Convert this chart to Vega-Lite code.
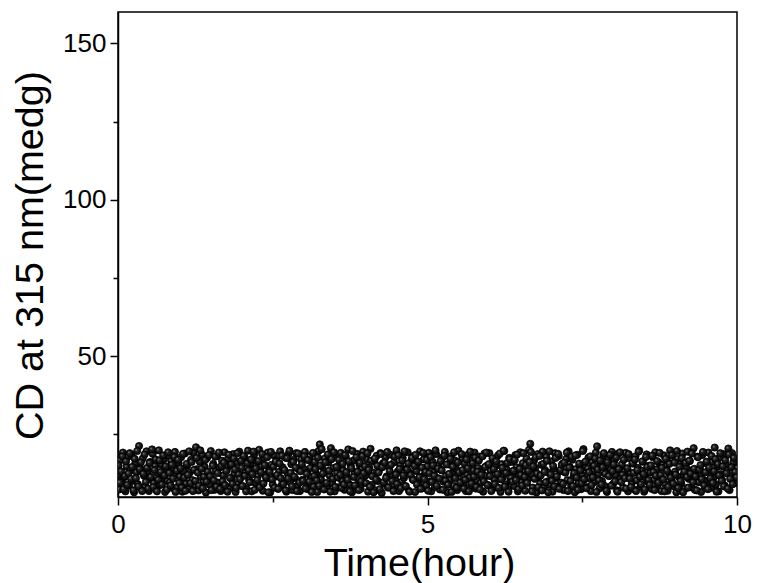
{
  "$schema": "https://vega.github.io/schema/vega-lite/v6.json",
  "autosize": "none",
  "width": 619,
  "height": 485,
  "padding": {"left": 118, "top": 12, "right": 21, "bottom": 86},
  "background": "white",
  "config": {
    "view": {"stroke": "#000", "strokeWidth": 1.5},
    "font": "Liberation Sans",
    "axis": {
      "domainColor": "#000", "domainWidth": 1.5, "tickColor": "#000", "tickWidth": 1.5,
      "grid": false, "labelFont": "Liberation Sans", "titleFont": "Liberation Sans",
      "labelFontSize": 26, "titleFontSize": 39.5, "labelColor": "#000", "titleColor": "#000",
      "titleFontWeight": "normal"
    }
  },
  "data": {"values": [
{"t":0.00,"cd":12.1},{"t":0.02,"cd":7.4},{"t":0.04,"cd":16.8},{"t":0.06,"cd":9.9},{"t":0.08,"cd":19.2},{"t":0.10,"cd":11.3},{"t":0.12,"cd":6.8},{"t":0.14,"cd":14.7},{"t":0.16,"cd":17.9},{"t":0.18,"cd":8.6},
{"t":0.20,"cd":13.5},{"t":0.22,"cd":18.4},{"t":0.24,"cd":10.2},{"t":0.26,"cd":6.5},{"t":0.28,"cd":15.8},{"t":0.30,"cd":12.9},{"t":0.32,"cd":9.1},{"t":0.34,"cd":21.3},{"t":0.36,"cd":14.2},{"t":0.38,"cd":7.7},
{"t":0.40,"cd":17.3},{"t":0.42,"cd":11.8},{"t":0.44,"cd":8.3},{"t":0.46,"cd":19.6},{"t":0.48,"cd":13.1},{"t":0.50,"cd":6.9},{"t":0.52,"cd":16.2},{"t":0.54,"cd":10.7},{"t":0.56,"cd":18.8},{"t":0.58,"cd":9.4},
{"t":0.60,"cd":14.9},{"t":0.62,"cd":7.2},{"t":0.64,"cd":12.6},{"t":0.66,"cd":19.9},{"t":0.68,"cd":8.8},{"t":0.70,"cd":15.4},{"t":0.72,"cd":11.1},{"t":0.74,"cd":17.1},{"t":0.76,"cd":6.6},{"t":0.78,"cd":13.8},
{"t":0.80,"cd":10.1},{"t":0.82,"cd":18.2},{"t":0.84,"cd":9.7},{"t":0.86,"cd":16.5},{"t":0.88,"cd":7.9},{"t":0.90,"cd":14.1},{"t":0.92,"cd":19.4},{"t":0.94,"cd":12.3},{"t":0.96,"cd":8.1},{"t":0.98,"cd":15.9},
{"t":1.00,"cd":11.6},{"t":1.02,"cd":17.7},{"t":1.04,"cd":6.7},{"t":1.06,"cd":13.3},{"t":1.08,"cd":18.9},{"t":1.10,"cd":9.3},{"t":1.12,"cd":15.1},{"t":1.14,"cd":7.6},{"t":1.16,"cd":12.8},{"t":1.18,"cd":16.9},
{"t":1.20,"cd":10.4},{"t":1.22,"cd":19.1},{"t":1.24,"cd":8.5},{"t":1.26,"cd":20.9},{"t":1.28,"cd":13.9},{"t":1.30,"cd":7.1},{"t":1.32,"cd":16.3},{"t":1.34,"cd":11.4},{"t":1.36,"cd":18.5},{"t":1.38,"cd":9.8},
{"t":1.40,"cd":14.6},{"t":1.42,"cd":6.4},{"t":1.44,"cd":17.5},{"t":1.46,"cd":12.2},{"t":1.48,"cd":8.9},{"t":1.50,"cd":19.7},{"t":1.52,"cd":10.8},{"t":1.54,"cd":15.6},{"t":1.56,"cd":7.3},{"t":1.58,"cd":13.2},
{"t":1.60,"cd":18.1},{"t":1.62,"cd":9.6},{"t":1.64,"cd":14.4},{"t":1.66,"cd":6.9},{"t":1.68,"cd":16.6},{"t":1.70,"cd":11.9},{"t":1.72,"cd":19.3},{"t":1.74,"cd":8.2},{"t":1.76,"cd":13.7},{"t":1.78,"cd":17.2},
{"t":1.80,"cd":7.8},{"t":1.82,"cd":15.2},{"t":1.84,"cd":10.6},{"t":1.86,"cd":18.7},{"t":1.88,"cd":12.4},{"t":1.90,"cd":6.6},{"t":1.92,"cd":16.1},{"t":1.94,"cd":9.2},{"t":1.96,"cd":19.5},{"t":1.98,"cd":11.2},
{"t":2.00,"cd":14.3},{"t":2.02,"cd":8.4},{"t":2.04,"cd":17.8},{"t":2.06,"cd":12.7},{"t":2.08,"cd":7.5},{"t":2.10,"cd":19.8},{"t":2.12,"cd":10.3},{"t":2.14,"cd":15.7},{"t":2.16,"cd":6.8},{"t":2.18,"cd":13.6},
{"t":2.20,"cd":18.6},{"t":2.22,"cd":9.5},{"t":2.24,"cd":16.4},{"t":2.26,"cd":11.7},{"t":2.28,"cd":20.1},{"t":2.30,"cd":8.0},{"t":2.32,"cd":14.8},{"t":2.34,"cd":7.0},{"t":2.36,"cd":17.4},{"t":2.38,"cd":12.0},
{"t":2.40,"cd":10.9},{"t":2.42,"cd":19.2},{"t":2.44,"cd":13.4},{"t":2.46,"cd":6.5},{"t":2.48,"cd":15.3},{"t":2.50,"cd":9.0},{"t":2.52,"cd":18.3},{"t":2.54,"cd":11.5},{"t":2.56,"cd":16.7},{"t":2.58,"cd":7.7},
{"t":2.60,"cd":13.0},{"t":2.62,"cd":19.6},{"t":2.64,"cd":8.7},{"t":2.66,"cd":14.5},{"t":2.68,"cd":10.0},{"t":2.70,"cd":17.6},{"t":2.72,"cd":6.7},{"t":2.74,"cd":12.5},{"t":2.76,"cd":18.9},{"t":2.78,"cd":9.7},
{"t":2.80,"cd":15.5},{"t":2.82,"cd":7.2},{"t":2.84,"cd":16.9},{"t":2.86,"cd":11.0},{"t":2.88,"cd":19.0},{"t":2.90,"cd":8.6},{"t":2.92,"cd":13.8},{"t":2.94,"cd":6.9},{"t":2.96,"cd":17.0},{"t":2.98,"cd":10.5},
{"t":3.00,"cd":14.0},{"t":3.02,"cd":19.4},{"t":3.04,"cd":9.1},{"t":3.06,"cd":12.9},{"t":3.08,"cd":7.4},{"t":3.10,"cd":18.0},{"t":3.12,"cd":11.3},{"t":3.14,"cd":15.9},{"t":3.16,"cd":8.3},{"t":3.18,"cd":16.2},
{"t":3.20,"cd":12.2},{"t":3.22,"cd":6.6},{"t":3.24,"cd":19.7},{"t":3.26,"cd":21.8},{"t":3.28,"cd":10.6},{"t":3.30,"cd":14.7},{"t":3.32,"cd":8.8},{"t":3.34,"cd":17.3},{"t":3.36,"cd":13.1},{"t":3.38,"cd":7.9},
{"t":3.40,"cd":16.0},{"t":3.42,"cd":11.8},{"t":3.44,"cd":20.6},{"t":3.46,"cd":9.4},{"t":3.48,"cd":14.2},{"t":3.50,"cd":6.8},{"t":3.52,"cd":18.4},{"t":3.54,"cd":12.6},{"t":3.56,"cd":8.1},{"t":3.58,"cd":15.0},
{"t":3.60,"cd":19.1},{"t":3.62,"cd":10.2},{"t":3.64,"cd":13.5},{"t":3.66,"cd":7.3},{"t":3.68,"cd":17.9},{"t":3.70,"cd":11.4},{"t":3.72,"cd":20.2},{"t":3.74,"cd":9.0},{"t":3.76,"cd":14.9},{"t":3.78,"cd":6.5},
{"t":3.80,"cd":16.6},{"t":3.82,"cd":12.3},{"t":3.84,"cd":8.5},{"t":3.86,"cd":18.8},{"t":3.88,"cd":10.8},{"t":3.90,"cd":15.3},{"t":3.92,"cd":7.6},{"t":3.94,"cd":13.9},{"t":3.96,"cd":19.5},{"t":3.98,"cd":9.6},
{"t":4.00,"cd":11.9},{"t":4.02,"cd":17.1},{"t":4.04,"cd":6.7},{"t":4.06,"cd":14.4},{"t":4.08,"cd":20.4},{"t":4.10,"cd":8.9},{"t":4.12,"cd":12.8},{"t":4.14,"cd":16.4},{"t":4.16,"cd":7.1},{"t":4.18,"cd":18.2},
{"t":4.20,"cd":10.1},{"t":4.22,"cd":13.6},{"t":4.24,"cd":19.0},{"t":4.26,"cd":6.3},{"t":4.28,"cd":15.8},{"t":4.30,"cd":9.3},{"t":4.32,"cd":17.7},{"t":4.34,"cd":11.6},{"t":4.36,"cd":8.0},{"t":4.38,"cd":14.6},
{"t":4.40,"cd":18.5},{"t":4.42,"cd":12.1},{"t":4.44,"cd":7.5},{"t":4.46,"cd":16.1},{"t":4.48,"cd":10.4},{"t":4.50,"cd":19.9},{"t":4.52,"cd":13.2},{"t":4.54,"cd":6.9},{"t":4.56,"cd":15.1},{"t":4.58,"cd":9.8},
{"t":4.60,"cd":17.4},{"t":4.62,"cd":11.1},{"t":4.64,"cd":8.4},{"t":4.66,"cd":14.0},{"t":4.68,"cd":19.3},{"t":4.70,"cd":7.0},{"t":4.72,"cd":12.7},{"t":4.74,"cd":16.8},{"t":4.76,"cd":10.7},{"t":4.78,"cd":18.1},
{"t":4.80,"cd":6.6},{"t":4.82,"cd":13.3},{"t":4.84,"cd":15.6},{"t":4.86,"cd":9.2},{"t":4.88,"cd":19.6},{"t":4.90,"cd":11.5},{"t":4.92,"cd":7.8},{"t":4.94,"cd":17.0},{"t":4.96,"cd":12.4},{"t":4.98,"cd":8.7},
{"t":5.00,"cd":14.8},{"t":5.02,"cd":19.1},{"t":5.04,"cd":10.0},{"t":5.06,"cd":6.8},{"t":5.08,"cd":16.3},{"t":5.10,"cd":12.9},{"t":5.12,"cd":8.2},{"t":5.14,"cd":18.7},{"t":5.16,"cd":11.0},{"t":5.18,"cd":15.2},
{"t":5.20,"cd":7.4},{"t":5.22,"cd":13.7},{"t":5.24,"cd":17.6},{"t":5.26,"cd":9.9},{"t":5.28,"cd":19.4},{"t":5.30,"cd":11.8},{"t":5.32,"cd":6.5},{"t":5.34,"cd":15.4},{"t":5.36,"cd":10.5},{"t":5.38,"cd":18.0},
{"t":5.40,"cd":12.6},{"t":5.42,"cd":8.6},{"t":5.44,"cd":16.7},{"t":5.46,"cd":14.1},{"t":5.48,"cd":7.2},{"t":5.50,"cd":19.8},{"t":5.52,"cd":10.9},{"t":5.54,"cd":13.0},{"t":5.56,"cd":17.2},{"t":5.58,"cd":9.1},
{"t":5.60,"cd":15.7},{"t":5.62,"cd":6.9},{"t":5.64,"cd":12.0},{"t":5.66,"cd":18.6},{"t":5.68,"cd":11.2},{"t":5.70,"cd":8.3},{"t":5.72,"cd":16.5},{"t":5.74,"cd":13.5},{"t":5.76,"cd":19.2},{"t":5.78,"cd":7.7},
{"t":5.80,"cd":10.3},{"t":5.82,"cd":14.3},{"t":5.84,"cd":17.9},{"t":5.86,"cd":9.5},{"t":5.88,"cd":12.8},{"t":5.90,"cd":6.7},{"t":5.92,"cd":18.9},{"t":5.94,"cd":11.7},{"t":5.96,"cd":15.0},{"t":5.98,"cd":8.8},
{"t":6.00,"cd":19.0},{"t":6.02,"cd":13.4},{"t":6.04,"cd":7.3},{"t":6.06,"cd":16.0},{"t":6.08,"cd":10.6},{"t":6.10,"cd":14.9},{"t":6.12,"cd":8.1},{"t":6.14,"cd":18.3},{"t":6.16,"cd":12.2},{"t":6.18,"cd":6.6},
{"t":6.20,"cd":15.5},{"t":6.22,"cd":11.3},{"t":6.24,"cd":19.7},{"t":6.26,"cd":9.0},{"t":6.28,"cd":13.8},{"t":6.30,"cd":7.6},{"t":6.32,"cd":17.5},{"t":6.34,"cd":10.2},{"t":6.36,"cd":16.2},{"t":6.38,"cd":12.5},
{"t":6.40,"cd":8.5},{"t":6.42,"cd":18.4},{"t":6.44,"cd":14.5},{"t":6.46,"cd":6.8},{"t":6.48,"cd":11.9},{"t":6.50,"cd":19.3},{"t":6.52,"cd":9.7},{"t":6.54,"cd":15.8},{"t":6.56,"cd":13.1},{"t":6.58,"cd":7.0},
{"t":6.60,"cd":17.3},{"t":6.62,"cd":10.8},{"t":6.64,"cd":20.1},{"t":6.66,"cd":22.0},{"t":6.68,"cd":12.3},{"t":6.70,"cd":8.0},{"t":6.72,"cd":16.6},{"t":6.74,"cd":14.2},{"t":6.76,"cd":6.4},{"t":6.78,"cd":18.7},
{"t":6.80,"cd":11.4},{"t":6.82,"cd":9.3},{"t":6.84,"cd":15.3},{"t":6.86,"cd":19.5},{"t":6.88,"cd":7.9},{"t":6.90,"cd":13.6},{"t":6.92,"cd":17.8},{"t":6.94,"cd":10.0},{"t":6.96,"cd":12.7},{"t":6.98,"cd":8.9},
{"t":7.00,"cd":16.4},{"t":7.02,"cd":6.7},{"t":7.04,"cd":14.0},{"t":7.06,"cd":19.0},{"t":7.08,"cd":11.1},{"t":7.10,"cd":8.4},{"t":7.12,"cd":18.1},{"t":7.14,"cd":13.2},{"t":7.16,"cd":9.6},{"t":7.18,"cd":15.6},
{"t":7.20,"cd":7.2},{"t":7.22,"cd":12.9},{"t":7.24,"cd":17.1},{"t":7.26,"cd":10.4},{"t":7.28,"cd":19.6},{"t":7.30,"cd":14.6},{"t":7.32,"cd":8.7},{"t":7.34,"cd":16.9},{"t":7.36,"cd":11.6},{"t":7.38,"cd":6.5},
{"t":7.40,"cd":13.9},{"t":7.42,"cd":18.5},{"t":7.44,"cd":9.4},{"t":7.46,"cd":15.1},{"t":7.48,"cd":7.5},{"t":7.50,"cd":12.1},{"t":7.52,"cd":20.3},{"t":7.54,"cd":10.7},{"t":7.56,"cd":14.4},{"t":7.58,"cd":8.2},
{"t":7.60,"cd":17.6},{"t":7.62,"cd":11.0},{"t":7.64,"cd":6.9},{"t":7.66,"cd":16.1},{"t":7.68,"cd":13.3},{"t":7.70,"cd":9.8},{"t":7.72,"cd":19.2},{"t":7.74,"cd":21.2},{"t":7.76,"cd":12.4},{"t":7.78,"cd":7.8},
{"t":7.80,"cd":15.9},{"t":7.82,"cd":10.1},{"t":7.84,"cd":18.2},{"t":7.86,"cd":8.6},{"t":7.88,"cd":14.7},{"t":7.90,"cd":6.6},{"t":7.92,"cd":17.0},{"t":7.94,"cd":11.8},{"t":7.96,"cd":13.7},{"t":7.98,"cd":19.4},
{"t":8.00,"cd":9.2},{"t":8.02,"cd":16.7},{"t":8.04,"cd":12.0},{"t":8.06,"cd":7.1},{"t":8.08,"cd":18.8},{"t":8.10,"cd":14.1},{"t":8.12,"cd":10.9},{"t":8.14,"cd":15.4},{"t":8.16,"cd":8.0},{"t":8.18,"cd":13.0},
{"t":8.20,"cd":19.1},{"t":8.22,"cd":11.5},{"t":8.24,"cd":6.8},{"t":8.26,"cd":17.4},{"t":8.28,"cd":12.6},{"t":8.30,"cd":9.5},{"t":8.32,"cd":15.7},{"t":8.34,"cd":7.4},{"t":8.36,"cd":18.0},{"t":8.38,"cd":10.3},
{"t":8.40,"cd":14.3},{"t":8.42,"cd":19.8},{"t":8.44,"cd":8.3},{"t":8.46,"cd":13.4},{"t":8.48,"cd":16.3},{"t":8.50,"cd":6.7},{"t":8.52,"cd":11.2},{"t":8.54,"cd":18.6},{"t":8.56,"cd":9.9},{"t":8.58,"cd":15.0},
{"t":8.60,"cd":12.8},{"t":8.62,"cd":7.6},{"t":8.64,"cd":17.7},{"t":8.66,"cd":10.5},{"t":8.68,"cd":19.3},{"t":8.70,"cd":13.8},{"t":8.72,"cd":8.8},{"t":8.74,"cd":16.0},{"t":8.76,"cd":11.7},{"t":8.78,"cd":6.9},
{"t":8.80,"cd":15.2},{"t":8.82,"cd":18.3},{"t":8.84,"cd":9.1},{"t":8.86,"cd":14.8},{"t":8.88,"cd":7.0},{"t":8.90,"cd":12.5},{"t":8.92,"cd":19.9},{"t":8.94,"cd":10.6},{"t":8.96,"cd":16.8},{"t":8.98,"cd":8.4},
{"t":9.00,"cd":13.1},{"t":9.02,"cd":6.5},{"t":9.04,"cd":17.2},{"t":9.06,"cd":11.4},{"t":9.08,"cd":15.5},{"t":9.10,"cd":9.3},{"t":9.12,"cd":18.9},{"t":9.14,"cd":12.2},{"t":9.16,"cd":7.7},{"t":9.18,"cd":14.5},
{"t":9.20,"cd":19.5},{"t":9.22,"cd":10.8},{"t":9.24,"cd":16.5},{"t":9.26,"cd":8.1},{"t":9.28,"cd":13.6},{"t":9.30,"cd":20.6},{"t":9.32,"cd":7.3},{"t":9.34,"cd":11.9},{"t":9.36,"cd":17.9},{"t":9.38,"cd":9.7},
{"t":9.40,"cd":14.0},{"t":9.42,"cd":6.6},{"t":9.44,"cd":18.4},{"t":9.46,"cd":12.7},{"t":9.48,"cd":10.2},{"t":9.50,"cd":15.8},{"t":9.52,"cd":8.6},{"t":9.54,"cd":19.2},{"t":9.56,"cd":13.3},{"t":9.58,"cd":7.9},
{"t":9.60,"cd":16.2},{"t":9.62,"cd":11.1},{"t":9.64,"cd":20.8},{"t":9.66,"cd":9.0},{"t":9.68,"cd":14.6},{"t":9.70,"cd":6.8},{"t":9.72,"cd":17.6},{"t":9.74,"cd":12.3},{"t":9.76,"cd":10.4},{"t":9.78,"cd":18.7},
{"t":9.80,"cd":8.7},{"t":9.82,"cd":15.3},{"t":9.84,"cd":13.5},{"t":9.86,"cd":20.5},{"t":9.88,"cd":7.2},{"t":9.90,"cd":11.6},{"t":9.92,"cd":19.0},{"t":9.94,"cd":16.1},{"t":9.96,"cd":9.4},{"t":9.98,"cd":12.9},
{"t":10.00,"cd":14.2},
{"t":0.01,"cd":15.1},{"t":0.03,"cd":9.6},{"t":0.05,"cd":13.2},{"t":0.07,"cd":18.0},{"t":0.09,"cd":7.5},{"t":0.11,"cd":11.7},{"t":0.13,"cd":16.4},{"t":0.15,"cd":8.9},{"t":0.17,"cd":12.5},{"t":0.19,"cd":19.0},
{"t":0.21,"cd":10.8},{"t":0.23,"cd":14.6},{"t":0.25,"cd":7.1},{"t":0.27,"cd":17.2},{"t":0.29,"cd":11.0},{"t":0.31,"cd":19.7},{"t":0.33,"cd":8.4},{"t":0.35,"cd":13.9},{"t":0.37,"cd":16.1},{"t":0.39,"cd":6.9},
{"t":0.41,"cd":12.4},{"t":0.43,"cd":18.6},{"t":0.45,"cd":9.8},{"t":0.47,"cd":14.3},{"t":0.49,"cd":7.7},{"t":0.51,"cd":15.9},{"t":0.53,"cd":11.4},{"t":0.55,"cd":20.2},{"t":0.57,"cd":8.2},{"t":0.59,"cd":13.6},
{"t":0.61,"cd":17.0},{"t":0.63,"cd":6.8},{"t":0.65,"cd":10.5},{"t":0.67,"cd":16.7},{"t":0.69,"cd":13.0},{"t":0.71,"cd":9.0},{"t":0.73,"cd":18.3},{"t":0.75,"cd":11.9},{"t":0.77,"cd":14.8},{"t":0.79,"cd":7.4},
{"t":0.81,"cd":19.3},{"t":0.83,"cd":12.7},{"t":0.85,"cd":8.7},{"t":0.87,"cd":15.3},{"t":0.89,"cd":10.9},{"t":0.91,"cd":17.8},{"t":0.93,"cd":6.6},{"t":0.95,"cd":13.4},{"t":0.97,"cd":16.9},{"t":0.99,"cd":9.5},
{"t":1.01,"cd":14.2},{"t":1.03,"cd":8.0},{"t":1.05,"cd":18.8},{"t":1.07,"cd":11.2},{"t":1.09,"cd":7.0},{"t":1.11,"cd":15.6},{"t":1.13,"cd":12.1},{"t":1.15,"cd":19.6},{"t":1.17,"cd":9.4},{"t":1.19,"cd":16.2},
{"t":1.21,"cd":6.9},{"t":1.23,"cd":13.7},{"t":1.25,"cd":10.1},{"t":1.27,"cd":17.5},{"t":1.29,"cd":12.8},{"t":1.31,"cd":8.6},{"t":1.33,"cd":19.9},{"t":1.35,"cd":14.0},{"t":1.37,"cd":7.8},{"t":1.39,"cd":11.5},
{"t":1.41,"cd":16.8},{"t":1.43,"cd":9.9},{"t":1.45,"cd":13.1},{"t":1.47,"cd":18.4},{"t":1.49,"cd":11.6},{"t":1.51,"cd":7.2},{"t":1.53,"cd":15.0},{"t":1.55,"cd":10.3},{"t":1.57,"cd":17.9},{"t":1.59,"cd":8.3},
{"t":1.61,"cd":12.6},{"t":1.63,"cd":19.2},{"t":1.65,"cd":7.6},{"t":1.67,"cd":14.9},{"t":1.69,"cd":10.0},{"t":1.71,"cd":16.0},{"t":1.73,"cd":8.8},{"t":1.75,"cd":13.3},{"t":1.77,"cd":6.7},{"t":1.79,"cd":18.5},
{"t":1.81,"cd":11.1},{"t":1.83,"cd":15.4},{"t":1.85,"cd":9.2},{"t":1.87,"cd":17.3},{"t":1.89,"cd":13.8},{"t":1.91,"cd":7.9},{"t":1.93,"cd":19.0},{"t":1.95,"cd":12.2},{"t":1.97,"cd":10.7},{"t":1.99,"cd":16.6},
{"t":2.01,"cd":8.5},{"t":2.03,"cd":18.1},{"t":2.05,"cd":11.8},{"t":2.07,"cd":6.8},{"t":2.09,"cd":15.8},{"t":2.11,"cd":13.5},{"t":2.13,"cd":9.7},{"t":2.15,"cd":17.0},{"t":2.17,"cd":12.3},{"t":2.19,"cd":19.5},
{"t":2.21,"cd":7.3},{"t":2.23,"cd":14.1},{"t":2.25,"cd":10.4},{"t":2.27,"cd":16.5},{"t":2.29,"cd":8.1},{"t":2.31,"cd":12.9},{"t":2.33,"cd":18.7},{"t":2.35,"cd":9.3},{"t":2.37,"cd":15.2},{"t":2.39,"cd":11.3},
{"t":2.41,"cd":17.7},{"t":2.43,"cd":6.5},{"t":2.45,"cd":13.0},{"t":2.47,"cd":19.4},{"t":2.49,"cd":10.6},{"t":2.51,"cd":14.7},{"t":2.53,"cd":8.0},{"t":2.55,"cd":16.3},{"t":2.57,"cd":12.0},{"t":2.59,"cd":7.6},
{"t":2.61,"cd":15.7},{"t":2.63,"cd":11.0},{"t":2.65,"cd":18.2},{"t":2.67,"cd":9.1},{"t":2.69,"cd":13.6},{"t":2.71,"cd":7.1},{"t":2.73,"cd":17.4},{"t":2.75,"cd":10.9},{"t":2.77,"cd":19.8},{"t":2.79,"cd":12.7},
{"t":2.81,"cd":8.4},{"t":2.83,"cd":16.2},{"t":2.85,"cd":11.5},{"t":2.87,"cd":14.4},{"t":2.89,"cd":6.9},{"t":2.91,"cd":18.9},{"t":2.93,"cd":9.6},{"t":2.95,"cd":13.2},{"t":2.97,"cd":15.5},{"t":2.99,"cd":10.2},
{"t":3.01,"cd":18.0},{"t":3.03,"cd":7.7},{"t":3.05,"cd":12.4},{"t":3.07,"cd":16.8},{"t":3.09,"cd":9.9},{"t":3.11,"cd":14.3},{"t":3.13,"cd":6.6},{"t":3.15,"cd":19.1},{"t":3.17,"cd":11.7},{"t":3.19,"cd":13.9},
{"t":3.21,"cd":10.3},{"t":3.23,"cd":17.6},{"t":3.25,"cd":8.6},{"t":3.27,"cd":15.1},{"t":3.29,"cd":20.3},{"t":3.31,"cd":12.5},{"t":3.33,"cd":7.4},{"t":3.35,"cd":16.1},{"t":3.37,"cd":9.5},{"t":3.39,"cd":18.6},
{"t":3.41,"cd":13.4},{"t":3.43,"cd":6.7},{"t":3.45,"cd":17.1},{"t":3.47,"cd":10.8},{"t":3.49,"cd":19.3},{"t":3.51,"cd":8.2},{"t":3.53,"cd":14.6},{"t":3.55,"cd":11.2},{"t":3.57,"cd":16.9},{"t":3.59,"cd":12.1},
{"t":3.61,"cd":7.9},{"t":3.63,"cd":15.6},{"t":3.65,"cd":9.0},{"t":3.67,"cd":18.4},{"t":3.69,"cd":12.9},{"t":3.71,"cd":10.5},{"t":3.73,"cd":16.4},{"t":3.75,"cd":6.8},{"t":3.77,"cd":14.2},{"t":3.79,"cd":19.7},
{"t":3.81,"cd":11.4},{"t":3.83,"cd":8.7},{"t":3.85,"cd":17.7},{"t":3.87,"cd":13.1},{"t":3.89,"cd":7.2},{"t":3.91,"cd":15.9},{"t":3.93,"cd":10.0},{"t":3.95,"cd":18.1},{"t":3.97,"cd":12.6},{"t":3.99,"cd":14.8},
{"t":4.01,"cd":9.4},{"t":4.03,"cd":19.0},{"t":4.05,"cd":13.7},{"t":4.07,"cd":8.3},{"t":4.09,"cd":16.6},{"t":4.11,"cd":11.6},{"t":4.13,"cd":6.5},{"t":4.15,"cd":17.3},{"t":4.17,"cd":10.6},{"t":4.19,"cd":15.0},
{"t":4.21,"cd":12.8},{"t":4.23,"cd":7.5},{"t":4.25,"cd":18.8},{"t":4.27,"cd":14.5},{"t":4.29,"cd":9.7},{"t":4.31,"cd":16.0},{"t":4.33,"cd":11.1},{"t":4.35,"cd":19.4},{"t":4.37,"cd":8.1},{"t":4.39,"cd":13.3},
{"t":4.41,"cd":15.3},{"t":4.43,"cd":10.1},{"t":4.45,"cd":6.9},{"t":4.47,"cd":17.9},{"t":4.49,"cd":12.2},{"t":4.51,"cd":9.2},{"t":4.53,"cd":18.3},{"t":4.55,"cd":14.0},{"t":4.57,"cd":7.8},{"t":4.59,"cd":16.7},
{"t":4.61,"cd":11.9},{"t":4.63,"cd":19.6},{"t":4.65,"cd":8.5},{"t":4.67,"cd":13.8},{"t":4.69,"cd":15.7},{"t":4.71,"cd":6.7},{"t":4.73,"cd":12.0},{"t":4.75,"cd":17.5},{"t":4.77,"cd":10.4},{"t":4.79,"cd":14.9},
{"t":4.81,"cd":18.5},{"t":4.83,"cd":9.0},{"t":4.85,"cd":16.3},{"t":4.87,"cd":11.3},{"t":4.89,"cd":7.6},{"t":4.91,"cd":14.4},{"t":4.93,"cd":19.1},{"t":4.95,"cd":10.7},{"t":4.97,"cd":13.0},{"t":4.99,"cd":16.9},
{"t":5.01,"cd":7.0},{"t":5.03,"cd":12.6},{"t":5.05,"cd":17.8},{"t":5.07,"cd":9.8},{"t":5.09,"cd":15.1},{"t":5.11,"cd":11.8},{"t":5.13,"cd":19.9},{"t":5.15,"cd":8.6},{"t":5.17,"cd":14.1},{"t":5.19,"cd":10.9},
{"t":5.21,"cd":16.5},{"t":5.23,"cd":13.5},{"t":5.25,"cd":7.3},{"t":5.27,"cd":18.2},{"t":5.29,"cd":10.2},{"t":5.31,"cd":15.4},{"t":5.33,"cd":8.9},{"t":5.35,"cd":12.4},{"t":5.37,"cd":17.2},{"t":5.39,"cd":6.6},
{"t":5.41,"cd":14.7},{"t":5.43,"cd":19.3},{"t":5.45,"cd":11.0},{"t":5.47,"cd":8.0},{"t":5.49,"cd":16.1},{"t":5.51,"cd":12.9},{"t":5.53,"cd":9.6},{"t":5.55,"cd":18.7},{"t":5.57,"cd":13.6},{"t":5.59,"cd":7.7},
{"t":5.61,"cd":10.5},{"t":5.63,"cd":17.0},{"t":5.65,"cd":14.2},{"t":5.67,"cd":6.8},{"t":5.69,"cd":19.5},{"t":5.71,"cd":9.3},{"t":5.73,"cd":15.8},{"t":5.75,"cd":11.5},{"t":5.77,"cd":17.6},{"t":5.79,"cd":8.2},
{"t":5.81,"cd":13.1},{"t":5.83,"cd":16.7},{"t":5.85,"cd":7.4},{"t":5.87,"cd":12.1},{"t":5.89,"cd":18.0},{"t":5.91,"cd":10.0},{"t":5.93,"cd":14.6},{"t":5.95,"cd":19.2},{"t":5.97,"cd":8.8},{"t":5.99,"cd":15.5},
{"t":6.01,"cd":11.7},{"t":6.03,"cd":6.9},{"t":6.05,"cd":17.4},{"t":6.07,"cd":13.9},{"t":6.09,"cd":9.1},{"t":6.11,"cd":16.4},{"t":6.13,"cd":12.3},{"t":6.15,"cd":7.9},{"t":6.17,"cd":18.9},{"t":6.19,"cd":10.6},
{"t":6.21,"cd":14.3},{"t":6.23,"cd":19.8},{"t":6.25,"cd":8.3},{"t":6.27,"cd":12.7},{"t":6.29,"cd":15.9},{"t":6.31,"cd":6.7},{"t":6.33,"cd":17.1},{"t":6.35,"cd":11.1},{"t":6.37,"cd":9.9},{"t":6.39,"cd":13.4},
{"t":6.41,"cd":16.8},{"t":6.43,"cd":10.4},{"t":6.45,"cd":18.6},{"t":6.47,"cd":7.5},{"t":6.49,"cd":14.0},{"t":6.51,"cd":12.0},{"t":6.53,"cd":8.7},{"t":6.55,"cd":19.0},{"t":6.57,"cd":11.4},{"t":6.59,"cd":15.2},
{"t":6.61,"cd":9.5},{"t":6.63,"cd":13.3},{"t":6.65,"cd":16.2},{"t":6.67,"cd":19.4},{"t":6.69,"cd":6.8},{"t":6.71,"cd":14.8},{"t":6.73,"cd":10.8},{"t":6.75,"cd":17.7},{"t":6.77,"cd":12.5},{"t":6.79,"cd":8.1},
{"t":6.81,"cd":18.1},{"t":6.83,"cd":11.9},{"t":6.85,"cd":7.1},{"t":6.87,"cd":15.6},{"t":6.89,"cd":13.0},{"t":6.91,"cd":9.7},{"t":6.93,"cd":16.6},{"t":6.95,"cd":6.5},{"t":6.97,"cd":19.6},{"t":6.99,"cd":12.2},
{"t":7.01,"cd":10.2},{"t":7.03,"cd":14.9},{"t":7.05,"cd":8.4},{"t":7.07,"cd":17.5},{"t":7.09,"cd":11.6},{"t":7.11,"cd":18.8},{"t":7.13,"cd":7.6},{"t":7.15,"cd":13.7},{"t":7.17,"cd":15.3},{"t":7.19,"cd":9.2},
{"t":7.21,"cd":16.0},{"t":7.23,"cd":12.8},{"t":7.25,"cd":19.2},{"t":7.27,"cd":6.9},{"t":7.29,"cd":14.4},{"t":7.31,"cd":10.1},{"t":7.33,"cd":17.9},{"t":7.35,"cd":8.5},{"t":7.37,"cd":12.6},{"t":7.39,"cd":18.3},
{"t":7.41,"cd":11.2},{"t":7.43,"cd":7.3},{"t":7.45,"cd":15.7},{"t":7.47,"cd":13.5},{"t":7.49,"cd":9.4},{"t":7.51,"cd":19.7},{"t":7.53,"cd":10.7},{"t":7.55,"cd":16.3},{"t":7.57,"cd":7.8},{"t":7.59,"cd":14.1},
{"t":7.61,"cd":12.9},{"t":7.63,"cd":18.0},{"t":7.65,"cd":8.8},{"t":7.67,"cd":11.3},{"t":7.69,"cd":15.0},{"t":7.71,"cd":17.3},{"t":7.73,"cd":6.6},{"t":7.75,"cd":13.8},{"t":7.77,"cd":10.3},{"t":7.79,"cd":16.7},
{"t":7.81,"cd":9.0},{"t":7.83,"cd":14.5},{"t":7.85,"cd":19.0},{"t":7.87,"cd":12.4},{"t":7.89,"cd":7.0},{"t":7.91,"cd":16.1},{"t":7.93,"cd":11.7},{"t":7.95,"cd":18.5},{"t":7.97,"cd":8.6},{"t":7.99,"cd":13.2},
{"t":8.01,"cd":15.4},{"t":8.03,"cd":10.0},{"t":8.05,"cd":17.6},{"t":8.07,"cd":6.7},{"t":8.09,"cd":13.9},{"t":8.11,"cd":19.3},{"t":8.13,"cd":9.8},{"t":8.15,"cd":12.1},{"t":8.17,"cd":16.9},{"t":8.19,"cd":11.0},
{"t":8.21,"cd":7.7},{"t":8.23,"cd":14.2},{"t":8.25,"cd":18.7},{"t":8.27,"cd":10.9},{"t":8.29,"cd":8.2},{"t":8.31,"cd":15.8},{"t":8.33,"cd":12.7},{"t":8.35,"cd":17.0},{"t":8.37,"cd":6.9},{"t":8.39,"cd":13.6},
{"t":8.41,"cd":19.5},{"t":8.43,"cd":11.5},{"t":8.45,"cd":9.1},{"t":8.47,"cd":16.4},{"t":8.49,"cd":12.3},{"t":8.51,"cd":7.4},{"t":8.53,"cd":17.8},{"t":8.55,"cd":14.6},{"t":8.57,"cd":10.4},{"t":8.59,"cd":8.9},
{"t":8.61,"cd":15.1},{"t":8.63,"cd":18.2},{"t":8.65,"cd":13.0},{"t":8.67,"cd":7.2},{"t":8.69,"cd":11.8},{"t":8.71,"cd":16.5},{"t":8.73,"cd":9.6},{"t":8.75,"cd":19.1},{"t":8.77,"cd":12.0},{"t":8.79,"cd":14.3},
{"t":8.81,"cd":10.6},{"t":8.83,"cd":6.8},{"t":8.85,"cd":17.2},{"t":8.87,"cd":13.4},{"t":8.89,"cd":8.3},{"t":8.91,"cd":15.6},{"t":8.93,"cd":11.2},{"t":8.95,"cd":18.4},{"t":8.97,"cd":9.3},{"t":8.99,"cd":16.0},
{"t":9.01,"cd":12.2},{"t":9.03,"cd":19.7},{"t":9.05,"cd":7.9},{"t":9.07,"cd":14.7},{"t":9.09,"cd":10.1},{"t":9.11,"cd":17.4},{"t":9.13,"cd":6.5},{"t":9.15,"cd":13.1},{"t":9.17,"cd":15.9},{"t":9.19,"cd":11.4},
{"t":9.21,"cd":8.0},{"t":9.23,"cd":16.6},{"t":9.25,"cd":12.5},{"t":9.27,"cd":18.9},{"t":9.29,"cd":9.7},{"t":9.31,"cd":14.0},{"t":9.33,"cd":11.6},{"t":9.35,"cd":7.1},{"t":9.37,"cd":17.7},{"t":9.39,"cd":13.8},
{"t":9.41,"cd":15.2},{"t":9.43,"cd":10.7},{"t":9.45,"cd":19.4},{"t":9.47,"cd":8.7},{"t":9.49,"cd":12.9},{"t":9.51,"cd":16.3},{"t":9.53,"cd":7.5},{"t":9.55,"cd":14.4},{"t":9.57,"cd":11.0},{"t":9.59,"cd":18.1},
{"t":9.61,"cd":9.5},{"t":9.63,"cd":13.2},{"t":9.65,"cd":17.1},{"t":9.67,"cd":6.7},{"t":9.69,"cd":15.5},{"t":9.71,"cd":11.9},{"t":9.73,"cd":19.0},{"t":9.75,"cd":10.2},{"t":9.77,"cd":14.8},{"t":9.79,"cd":8.4},
{"t":9.81,"cd":16.8},{"t":9.83,"cd":12.6},{"t":9.85,"cd":7.7},{"t":9.87,"cd":18.6},{"t":9.89,"cd":10.8},{"t":9.91,"cd":14.5},{"t":9.93,"cd":9.1},{"t":9.95,"cd":17.5},{"t":9.97,"cd":13.0},{"t":9.99,"cd":11.3}
  ]},
  "mark": {
    "type": "point", "shape": "circle", "filled": true, "size": 52, "opacity": 1,
    "fill": {"gradient": "radial", "x1": 0.35, "y1": 0.35, "r1": 0, "x2": 0.5, "y2": 0.5, "r2": 0.55,
      "stops": [{"offset": 0, "color": "#b0b0b0"}, {"offset": 0.3, "color": "#262626"}, {"offset": 1, "color": "#000000"}]},
    "stroke": "#000", "strokeWidth": 0.8, "clip": true
  },
  "encoding": {
    "x": {
      "field": "t", "type": "quantitative",
      "scale": {"domain": [0, 10], "nice": false, "zero": false},
      "axis": {
        "title": "Time(hour)", "values": [0, 2.5, 5, 7.5, 10],
        "labelExpr": "datum.value % 5 === 0 ? datum.label : ''",
        "tickSize": {"condition": {"test": "datum.value % 5 === 0", "value": 8}, "value": 5},
        "labelPadding": 6, "labelFlush": false, "labelOverlap": false,
        "titleX": 301, "titleY": 78, "titleBaseline": "alphabetic", "titleAnchor": "middle", "titleAlign": "center"
      }
    },
    "y": {
      "field": "cd", "type": "quantitative",
      "scale": {"domain": [5, 160], "nice": false, "zero": false},
      "axis": {
        "title": "CD at 315 nm(medg)", "values": [25, 50, 75, 100, 125, 150],
        "labelExpr": "datum.value % 50 === 0 ? datum.label : ''",
        "tickSize": {"condition": {"test": "datum.value % 50 === 0", "value": 8}, "value": 5},
        "labelPadding": 4, "labelOverlap": false,
        "titleX": -88, "titleY": 243, "titleAngle": -90, "titleAlign": "center", "titleBaseline": "middle", "titleAnchor": "middle"
      }
    }
  }
}
